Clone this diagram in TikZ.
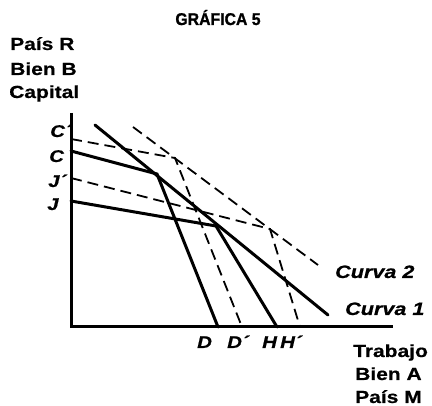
\documentclass[tikz,border=0pt]{standalone}
\usepackage{fontspec}
\setmainfont{Liberation Sans}
\newfontfamily\widefont[FakeStretch=1.2,FakeBold=0.6]{Liberation Sans}
\newfontfamily\titlefont[FakeStretch=0.93,FakeBold=1.2]{Liberation Sans}
\begin{document}
\begin{tikzpicture}[x=1pt,y=-1pt,
  solidln/.style={line width=3pt,line cap=round},
  dashln/.style={line width=1.8pt,dash pattern=on 11pt off 6pt},
  axisln/.style={line width=3pt},
  axlabel/.style={inner sep=0pt,font=\widefont\bfseries\fontsize{17.5}{20}\selectfont},
  titlelabel/.style={inner sep=0pt,font=\titlefont\bfseries\fontsize{17}{20}\selectfont},
  itlabel/.style={inner sep=0pt,font=\widefont\bfseries\itshape\fontsize{17}{20}\selectfont},
  curvelabel/.style={inner sep=0pt,font=\widefont\bfseries\itshape\fontsize{18}{20}\selectfont}]
\useasboundingbox (0,0) rectangle (432,406);
% axes
\coordinate (O) at (71,327);
\coordinate (Ytop) at (71,113);
\coordinate (Xend) at (393,327);
\draw[axisln] (Ytop) -- (O) -- (Xend);
% points
\coordinate (C) at (71,151);
\coordinate (Cp) at (71,139);
\coordinate (J) at (71,201);
\coordinate (Jp) at (71,178);
\coordinate (K1) at (157,174);
\coordinate (K2) at (216,226);
\coordinate (K1p) at (175,158);
\coordinate (K2p) at (270,229);
\coordinate (D) at (218,327);
\coordinate (Dp) at (242,327);
\coordinate (H) at (277,327);
\coordinate (Hp) at (300,327);
\coordinate (S1) at (95,125);
\coordinate (E1) at (328,315);
\coordinate (S2) at (133,127);
\coordinate (E2) at (318,265);
% solid curve 1
\draw[solidln] (S1) -- (E1);
\draw[solidln] (C) -- (K1) -- (D);
\draw[solidln] (J) -- (K2) -- (H);
% dashed curve 2
\draw[dashln] (S2) -- (E2);
\draw[dashln] (Cp) -- (K1p) -- (Dp);
\draw[dashln] (Jp) -- (K2p) -- (Hp);
% title
\node[titlelabel,anchor=base] (title) at (218,25) {GRÁFICA 5};
% left labels
\node[axlabel,anchor=base west] (paisR) at (10,50) {País R};
\node[axlabel,anchor=base west] (bienB) at (10,75) {Bien B};
\node[axlabel,anchor=base west] (capital) at (9,98) {Capital};
% right labels
\node[axlabel,anchor=base west] (trabajo) at (353,357) {Trabajo};
\node[axlabel,anchor=base west] (bienA) at (355,380) {Bien A};
\node[axlabel,anchor=base west] (paisM) at (355,403) {País M};
% vertical axis labels
\node[itlabel,anchor=base west] (lCp) at (50,137) {C´};
\node[itlabel,anchor=base west] (lC) at (49,162) {C};
\node[itlabel,anchor=base west] (lJp) at (48,187) {J´};
\node[itlabel,anchor=base west] (lJ) at (47,210) {J};
% horizontal axis labels
\node[itlabel,anchor=base west] (lD) at (197,348) {D};
\node[itlabel,anchor=base west] (lDp) at (227,348) {D´};
\node[itlabel,anchor=base west] (lH) at (262,348) {H};
\node[itlabel,anchor=base west] (lHp) at (280,348) {H´};
% curve labels
\node[curvelabel,anchor=base west] (c2) at (335,278) {Curva 2};
\node[curvelabel,anchor=base west] (c1) at (345,315) {Curva 1};
\end{tikzpicture}
\end{document}
